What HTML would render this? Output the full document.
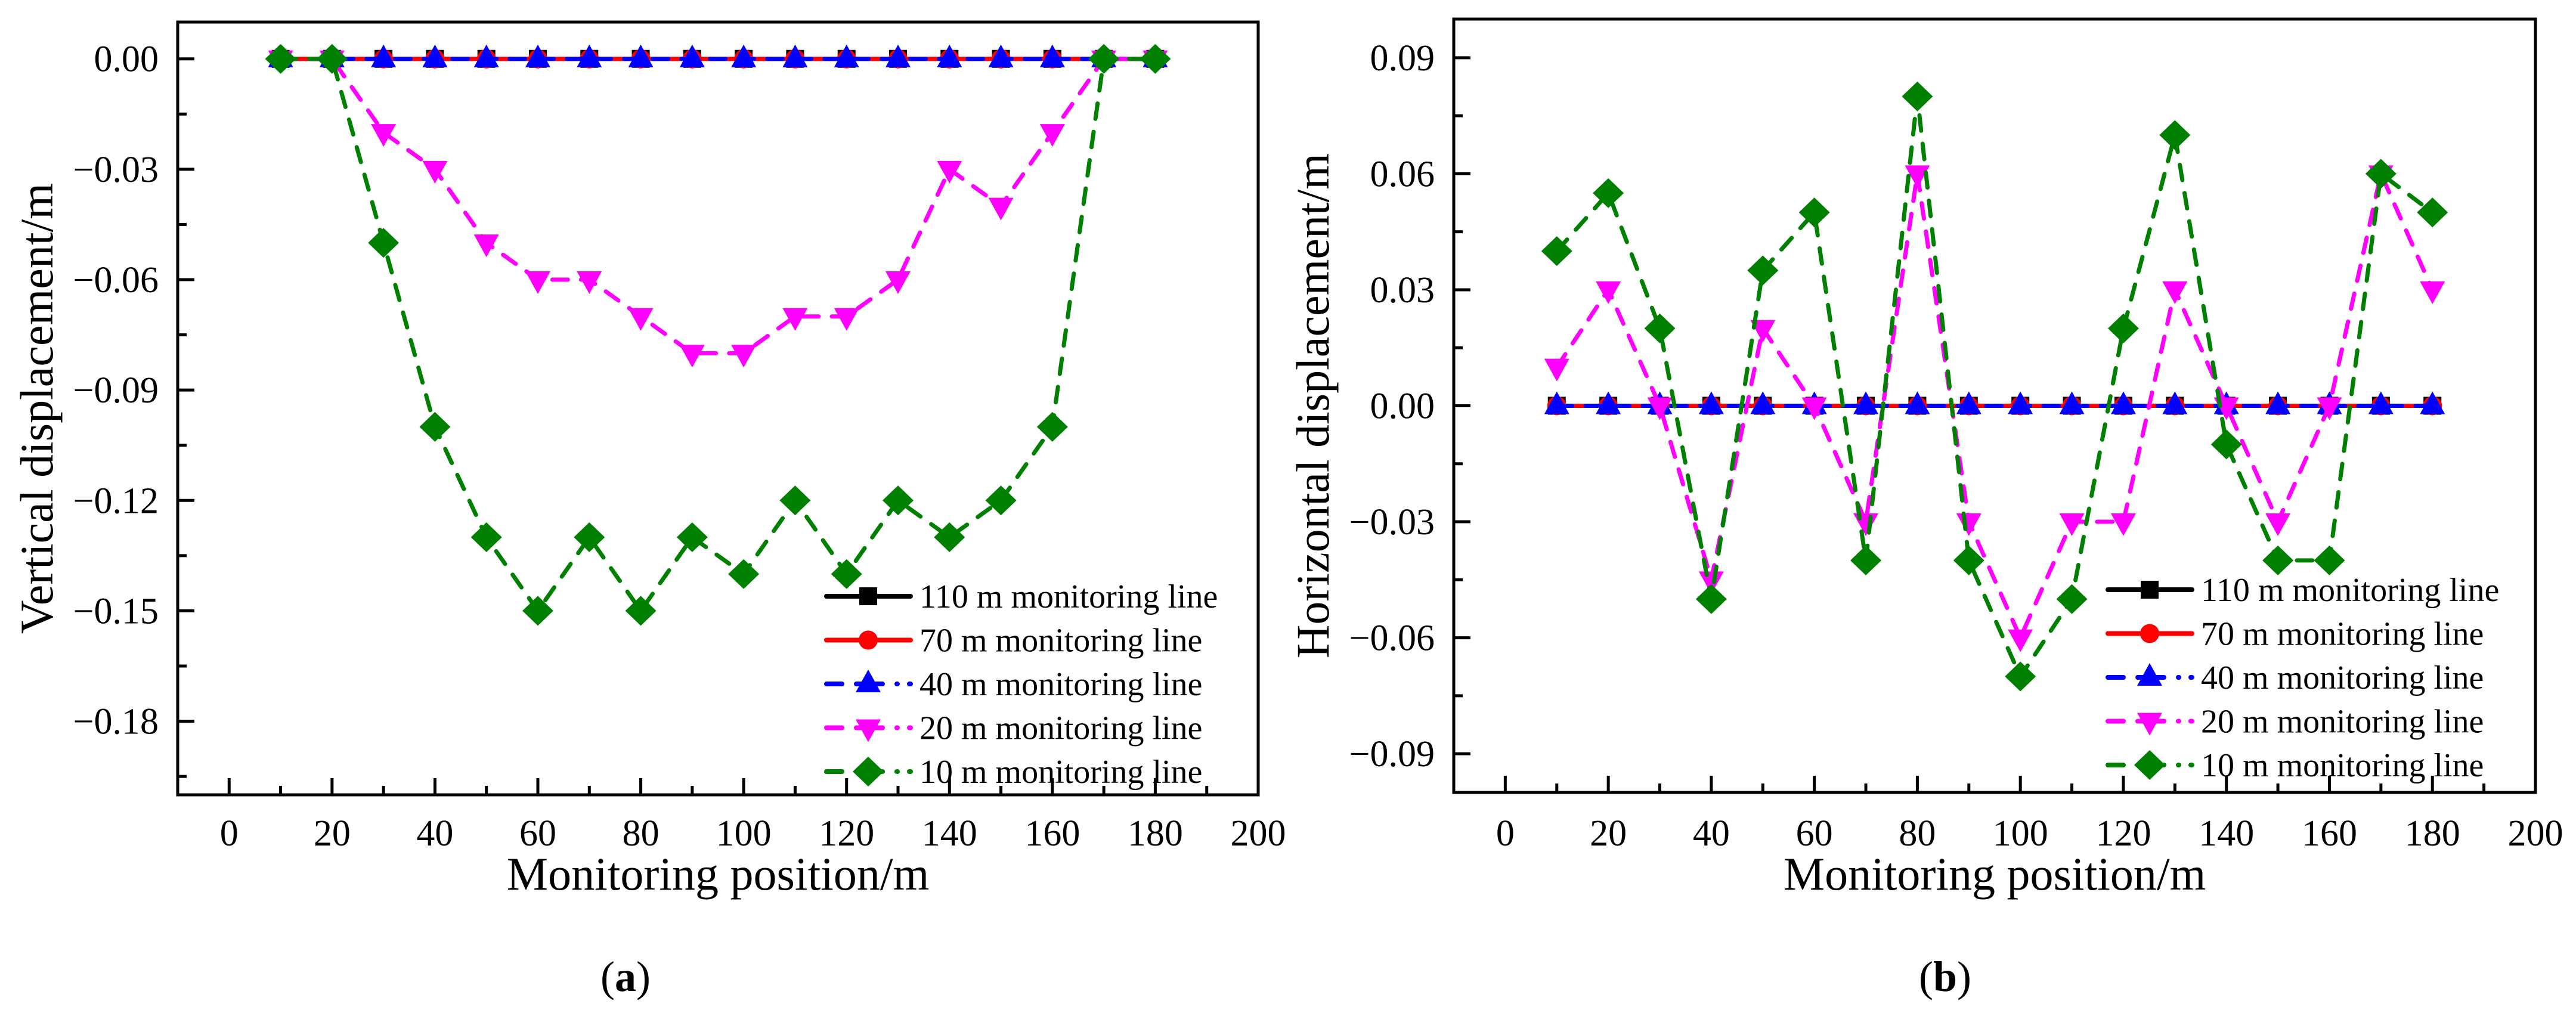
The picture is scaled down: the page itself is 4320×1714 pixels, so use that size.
<!DOCTYPE html>
<html><head><meta charset="utf-8">
<style>
html,body{margin:0;padding:0;background:#fff;}
svg{display:block;font-family:"Liberation Serif",serif;}
</style></head>
<body>
<svg id="fig" width="4320" height="1714" viewBox="0 0 4320 1714" xmlns="http://www.w3.org/2000/svg">
<rect width="4320" height="1714" fill="#fff"/>
</svg>
<script>
const positions = [10,20,30,40,50,60,70,80,90,100,110,120,130,140,150,160,170,180];
const seriesNames = ["110 m monitoring line","70 m monitoring line","40 m monitoring line","20 m monitoring line","10 m monitoring line"];
const xTicks = [0,20,40,60,80,100,120,140,160,180,200];
const vTicks = [0,-0.03,-0.06,-0.09,-0.12,-0.15,-0.18];
const hTicks = [0.09,0.06,0.03,0,-0.03,-0.06,-0.09];
const v110 = [0,0,0,0,0,0,0,0,0,0,0,0,0,0,0,0,0,0];
const v70  = [0,0,0,0,0,0,0,0,0,0,0,0,0,0,0,0,0,0];
const v40  = [0,0,0,0,0,0,0,0,0,0,0,0,0,0,0,0,0,0];
const v20  = [0,0,-0.02,-0.03,-0.05,-0.06,-0.06,-0.07,-0.08,-0.08,-0.07,-0.07,-0.06,-0.03,-0.04,-0.02,0,0];
const v10  = [0,0,-0.05,-0.10,-0.13,-0.15,-0.13,-0.15,-0.13,-0.14,-0.12,-0.14,-0.12,-0.13,-0.12,-0.10,0,0];
const h110 = [0,0,0,0,0,0,0,0,0,0,0,0,0,0,0,0,0,0];
const h70  = [0,0,0,0,0,0,0,0,0,0,0,0,0,0,0,0,0,0];
const h40  = [0,0,0,0,0,0,0,0,0,0,0,0,0,0,0,0,0,0];
const h20  = [0.01,0.03,0,-0.045,0.02,0,-0.03,0.06,-0.03,-0.06,-0.03,-0.03,0.03,0,-0.03,0,0.06,0.03];
const h10  = [0.04,0.055,0.02,-0.05,0.035,0.05,-0.04,0.08,-0.04,-0.07,-0.05,0.02,0.07,-0.01,-0.04,-0.04,0.06,0.05];

const NS="http://www.w3.org/2000/svg";
const svg=document.getElementById('fig');
function mk(tag,attrs,parent){const e=document.createElementNS(NS,tag);for(const k in attrs)e.setAttribute(k,attrs[k]);(parent||svg).appendChild(e);return e;}
const styles=[
 {color:"#000000",dash:null,marker:"square"},
 {color:"#ff0000",dash:null,marker:"circle"},
 {color:"#0000ff",dash:"26 22",marker:"tri"},
 {color:"#ff00ff",dash:"26 22",marker:"tridown"},
 {color:"#008000",dash:"26 22",marker:"diamond"}];
function marker(g,type,cx,cy,color){
  let e;
  if(type==="square") e=mk('rect',{x:cx-15,y:cy-15,width:30,height:30,fill:color},g);
  else if(type==="circle") e=mk('ellipse',{cx:cx,cy:cy,rx:16,ry:16,fill:color},g);
  else if(type==="tri") e=mk('polygon',{points:`${cx},${cy-24} ${cx+21},${cy+14} ${cx-21},${cy+14}`,fill:color},g);
  else if(type==="tridown") e=mk('polygon',{points:`${cx},${cy+24} ${cx+21},${cy-14} ${cx-21},${cy-14}`,fill:color},g);
  else e=mk('polygon',{points:`${cx},${cy-25} ${cx+26},${cy} ${cx},${cy+25} ${cx-26},${cy}`,fill:color},g);
  return e;
}
function panel(cfg){
  const {L,R,T,B,ymin,ymax,yTicks,data,title,label,labelX,name,legX,legY}=cfg;
  const g=mk('g',{});
  
  
  const xs=v=>L+(v+10)/210*(R-L);
  const ys=v=>T+(ymax-v)/(ymax-ymin)*(B-T);
  data.forEach((arr,si)=>{
    const st=styles[si];
    const sg=mk('g',{},g);
    
    
    const pts=arr.map((v,i)=>xs(positions[i])+','+ys(v)).join(' ');
    const pl=mk('polyline',{points:pts,fill:'none',stroke:st.color,'stroke-width':7,'stroke-linecap':'round','stroke-linejoin':'round'},sg);
    if(st.dash) pl.setAttribute('stroke-dasharray',st.dash);
    
    
    arr.forEach((v,i)=>{const m=marker(sg,st.marker,xs(positions[i]),ys(v),st.color);
      
      });
  });
  const fr=mk('rect',{x:L,y:T,width:R-L,height:B-T,fill:'none',stroke:'#000','stroke-width':5},g);
  
  
  for(let v=0;v<=200;v+=10){
    const major=v%20===0;const x=xs(v);
    mk('line',{x1:x,x2:x,y1:B,y2:B-(major?28:15),stroke:'#000','stroke-width':5},g);
  }
  xTicks.forEach(v=>{const t=mk('text',{x:xs(v),y:1418,'font-size':62,'text-anchor':'middle'},g);t.textContent=v;
    
    });
  for(let k=Math.ceil(ymin/0.015-1e-6);k*0.015<=ymax+1e-9;k++){
    const v=k*0.015;const major=Math.abs(k%2)===0;const y=ys(v);
    mk('line',{x1:L,x2:L+(major?28:15),y1:y,y2:y,stroke:'#000','stroke-width':5},g);
  }
  yTicks.forEach(v=>{const t=mk('text',{x:L-32,y:ys(v)+21,'font-size':62,'text-anchor':'end'},g);
    t.textContent=(v<0?'\u2212':'')+Math.abs(v).toFixed(2);
    
    });
  const xt=mk('text',{x:(L+R)/2,y:1492,'font-size':78,'text-anchor':'middle'},g);
  xt.textContent='Monitoring position/m';
  
  
  const cy=(T+B)/2;
  const yt=mk('text',{x:0,y:0,'font-size':78,'text-anchor':'middle',transform:`translate(${L-210},${cy}) rotate(-90)`},g);
  yt.textContent=title;
  
  
  const lg=mk('g',{},g);
  
  
  seriesNames.forEach((n,i)=>{
    const st=styles[i];const y=legY+i*73.5;
    const e=mk('g',{},lg);
    
    
    const ln=mk('line',{x1:legX,x2:legX+141,y1:y,y2:y,stroke:st.color,'stroke-width':8,'stroke-linecap':'round'},e);
    if(st.dash) ln.setAttribute('stroke-dasharray','26 24 44 24 1 20');
    marker(e,st.marker,legX+70,y,st.color);
    const t=mk('text',{x:legX+156,y:y+19,'font-size':56},e);t.textContent=n;
  });
  const pl=mk('text',{x:labelX,y:1662,'font-size':72,'text-anchor':'middle'},g);
  pl.innerHTML='(<tspan font-weight="bold">'+label+'</tspan>)';
  
  
}
panel({L:298,R:2110,T:37,B:1333,ymin:-0.2,ymax:0.01,yTicks:vTicks,data:[v110,v70,v40,v20,v10],
  title:'Vertical displacement/m',label:'a',labelX:1049,name:'vertical-displacement-chart',legX:1386,legY:1000});
panel({L:2438,R:4252,T:32,B:1329,ymin:-0.1,ymax:0.1,yTicks:hTicks,data:[h110,h70,h40,h20,h10],
  title:'Horizontal displacement/m',label:'b',labelX:3262,name:'horizontal-displacement-chart',legX:3535,legY:989});
</script>
</body></html>
